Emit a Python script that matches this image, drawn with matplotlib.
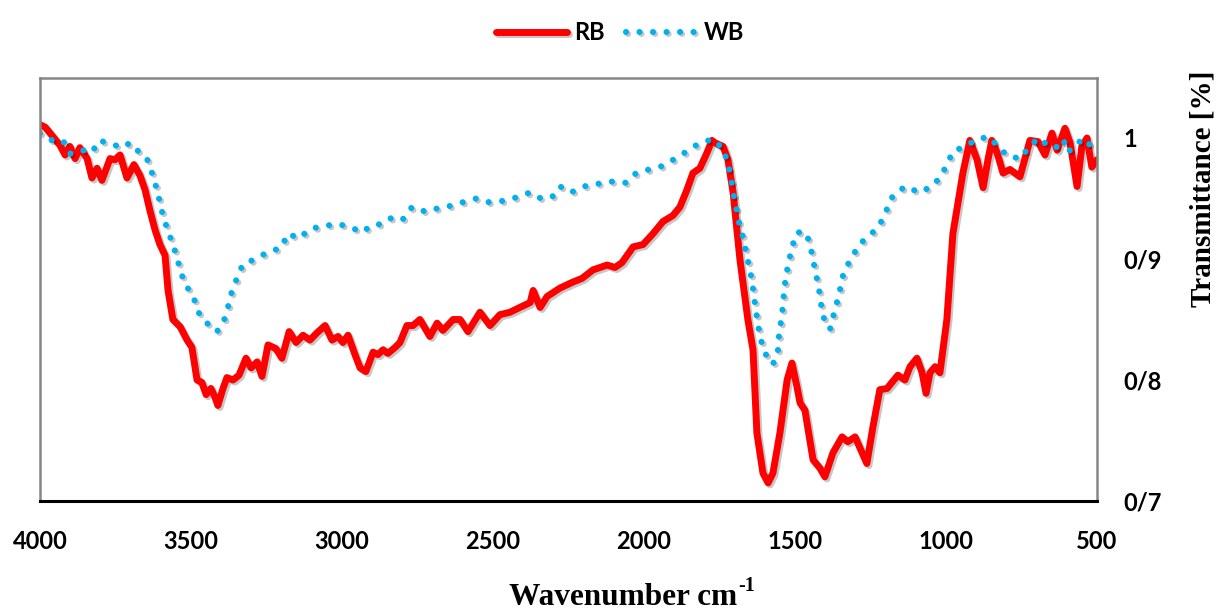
import matplotlib
matplotlib.use("Agg")
import matplotlib.pyplot as plt
import matplotlib.patheffects as pe
from matplotlib.ticker import FuncFormatter

# RB spectrum (wavenumber, transmittance)
rb_wn = [4000, 3983, 3960, 3934, 3917, 3901, 3884, 3868, 3844, 3828, 3811, 3795, 3768, 3752,
         3735, 3712, 3689, 3669, 3652, 3636, 3619, 3603, 3586, 3576, 3560, 3536, 3513, 3497,
         3480, 3464, 3450, 3434, 3421, 3411, 3394, 3381, 3361, 3341, 3318, 3301, 3281, 3265,
         3245, 3219, 3199, 3175, 3152, 3129, 3106, 3083, 3056, 3033, 3013, 2997, 2980, 2957,
         2940, 2921, 2897, 2881, 2864, 2848, 2824, 2808, 2785, 2765, 2742, 2709, 2685, 2666,
         2632, 2609, 2583, 2543, 2510, 2477, 2444, 2411, 2377, 2367, 2344, 2321, 2278, 2235,
         2205, 2169, 2122, 2096, 2073, 2036, 2003, 1970, 1937, 1904, 1881, 1858, 1838, 1815,
         1791, 1775, 1765, 1738, 1722, 1705, 1682, 1656, 1639, 1626, 1606, 1589, 1573, 1550,
         1526, 1510, 1493, 1483, 1467, 1440, 1417, 1401, 1374, 1344, 1325, 1301, 1278, 1262,
         1242, 1219, 1195, 1179, 1159, 1136, 1119, 1096, 1079, 1066, 1053, 1036, 1020, 1010,
         997, 977, 944, 921, 897, 877, 861, 848, 831, 811, 788, 755, 722, 695, 672, 649, 632,
         606, 589, 566, 550, 533, 517, 500]
rb_t = [1.011, 1.009, 1.002, 0.994, 0.986, 0.993, 0.983, 0.992, 0.983, 0.967, 0.975, 0.965, 0.983, 0.982,
        0.986, 0.967, 0.978, 0.969, 0.957, 0.940, 0.924, 0.912, 0.903, 0.874, 0.850, 0.844, 0.833, 0.827,
        0.800, 0.798, 0.788, 0.793, 0.786, 0.779, 0.793, 0.802, 0.800, 0.804, 0.818, 0.810, 0.815, 0.803,
        0.829, 0.826, 0.818, 0.840, 0.831, 0.837, 0.833, 0.839, 0.845, 0.833, 0.836, 0.831, 0.837, 0.821,
        0.810, 0.807, 0.823, 0.821, 0.825, 0.822, 0.827, 0.831, 0.845, 0.845, 0.850, 0.836, 0.847, 0.841,
        0.850, 0.850, 0.840, 0.856, 0.845, 0.854, 0.856, 0.860, 0.864, 0.874, 0.860, 0.869, 0.876, 0.881,
        0.884, 0.891, 0.895, 0.893, 0.897, 0.910, 0.912, 0.921, 0.931, 0.936, 0.943, 0.957, 0.971, 0.975,
        0.988, 0.998, 0.996, 0.993, 0.982, 0.955, 0.899, 0.850, 0.825, 0.756, 0.723, 0.715, 0.723, 0.756,
        0.800, 0.814, 0.794, 0.781, 0.775, 0.734, 0.727, 0.720, 0.740, 0.753, 0.749, 0.753, 0.740, 0.731,
        0.761, 0.792, 0.793, 0.798, 0.804, 0.800, 0.811, 0.818, 0.806, 0.789, 0.806, 0.811, 0.806, 0.825,
        0.850, 0.921, 0.971, 0.998, 0.982, 0.959, 0.982, 0.998, 0.988, 0.971, 0.974, 0.968, 0.998, 0.997,
        0.986, 1.004, 0.990, 1.008, 0.996, 0.960, 0.993, 1.000, 0.976, 0.982]

# WB spectrum
wb_wn = [4000, 3960, 3924, 3901, 3861, 3828, 3805, 3762, 3728, 3702, 3679, 3646, 3629, 3616,
         3603, 3593, 3576, 3560, 3546, 3533, 3513, 3490, 3473, 3447, 3414, 3391, 3377, 3364,
         3348, 3328, 3285, 3245, 3202, 3179, 3142, 3106, 3063, 3020, 2977, 2934, 2901, 2864,
         2831, 2798, 2768, 2722, 2682, 2639, 2599, 2556, 2517, 2467, 2421, 2377, 2341, 2305,
         2278, 2242, 2199, 2156, 2109, 2060, 2026, 1983, 1937, 1897, 1858, 1815, 1771, 1738,
         1722, 1712, 1705, 1695, 1685, 1672, 1662, 1652, 1642, 1636, 1629, 1622, 1613, 1596,
         1573, 1556, 1553, 1546, 1540, 1536, 1530, 1520, 1510, 1493, 1464, 1450, 1440, 1430,
         1420, 1414, 1404, 1384, 1371, 1358, 1348, 1338, 1312, 1288, 1255, 1222, 1199, 1182,
         1156, 1126, 1093, 1053, 1020, 997, 977, 937, 897, 858, 828, 795, 752, 725, 692, 659,
         636, 612, 596, 569, 533, 513, 500]
wb_t = [1.004, 0.998, 0.998, 0.987, 0.990, 0.988, 0.998, 0.995, 0.992, 0.996, 0.990, 0.983, 0.971, 0.960,
        0.947, 0.936, 0.923, 0.912, 0.901, 0.888, 0.877, 0.867, 0.855, 0.847, 0.840, 0.849, 0.861, 0.874,
        0.884, 0.896, 0.900, 0.906, 0.909, 0.921, 0.917, 0.925, 0.927, 0.929, 0.927, 0.922, 0.928, 0.929,
        0.935, 0.933, 0.943, 0.939, 0.942, 0.944, 0.947, 0.950, 0.947, 0.948, 0.951, 0.955, 0.950, 0.951,
        0.960, 0.955, 0.960, 0.962, 0.964, 0.963, 0.971, 0.974, 0.977, 0.983, 0.989, 0.996, 0.999, 0.991,
        0.979, 0.967, 0.955, 0.943, 0.930, 0.918, 0.906, 0.894, 0.882, 0.869, 0.857, 0.845, 0.833, 0.821,
        0.813, 0.825, 0.837, 0.849, 0.861, 0.874, 0.886, 0.898, 0.910, 0.922, 0.922, 0.912, 0.899, 0.887,
        0.874, 0.863, 0.851, 0.842, 0.855, 0.867, 0.878, 0.890, 0.901, 0.912, 0.919, 0.927, 0.939, 0.950,
        0.957, 0.960, 0.955, 0.959, 0.967, 0.978, 0.989, 0.993, 0.999, 1.001, 0.993, 0.985, 0.983, 0.993,
        1.000, 0.993, 0.992, 0.999, 0.988, 0.996, 0.999, 0.988, 0.988]

x_ticks = [4000, 3500, 3000, 2500, 2000, 1500, 1000, 500]
y_ticks = [0.7, 0.8, 0.9, 1.0]


def fa_label(v, pos):
    # decimal point written as "/" like in the original
    s = ("%.1f" % v).rstrip("0").rstrip(".")
    return s.replace(".", "/")


fig = plt.figure(figsize=(12.16, 6.14), dpi=100)
ax = fig.add_axes([0.0329, 0.184, 0.8692, 0.689])

shadow = [pe.SimpleLineShadow(offset=(1.5, -1.5), alpha=0.22, shadow_color="k"), pe.Normal()]

ax.plot(rb_wn, rb_t, color="#ff0000", lw=5, solid_capstyle="round",
        solid_joinstyle="round", label="RB", path_effects=shadow)
ax.plot(wb_wn, wb_t, color="#00b0f0", lw=4.4, dashes=(0.01, 2.2), dash_capstyle="round",
        label="WB", path_effects=shadow)

ax.set_xlim(4000, 500)
ax.set_ylim(0.7, 1.0496)
ax.set_xticks(x_ticks)
ax.set_yticks(y_ticks)
ax.yaxis.set_major_formatter(FuncFormatter(fa_label))
ax.yaxis.tick_right()
ax.tick_params(axis="both", length=0, labelsize=17)
ax.tick_params(axis="x", pad=21)
ax.tick_params(axis="y", pad=19)
for lab in ax.get_xticklabels() + ax.get_yticklabels():
    lab.set_fontfamily("Lato")
    lab.set_fontweight("bold")

for s in ["left", "top", "right"]:
    ax.spines[s].set_color("#868686")
    ax.spines[s].set_linewidth(1.8)
ax.spines["bottom"].set_color("black")
ax.spines["bottom"].set_linewidth(2.2)

# x label with a plain hyphen superscript
xl = fig.text(0.512, 0.004, "Wavenumber cm", family="Liberation Serif",
              fontweight="bold", fontsize=22.5, ha="center", va="bottom")
ax.annotate("-1", xy=(1.0, 1.0), xycoords=xl, xytext=(1, 5), textcoords="offset points",
            family="Liberation Serif", fontweight="bold", fontsize=14.5,
            ha="left", va="top", annotation_clip=False)

fig.text(0.989, 0.692, "Transmittance [%]", family="Liberation Serif", fontweight="bold",
         fontsize=21, rotation=90, ha="center", va="center")

leg = fig.legend(loc="upper center", bbox_to_anchor=(0.51, 1.0), ncol=2, frameon=False,
                 prop={"family": "Lato", "weight": "bold", "size": 17},
                 handlelength=3.0, handletextpad=0.3, columnspacing=0.9)

fig.savefig("out.png", dpi=100)
